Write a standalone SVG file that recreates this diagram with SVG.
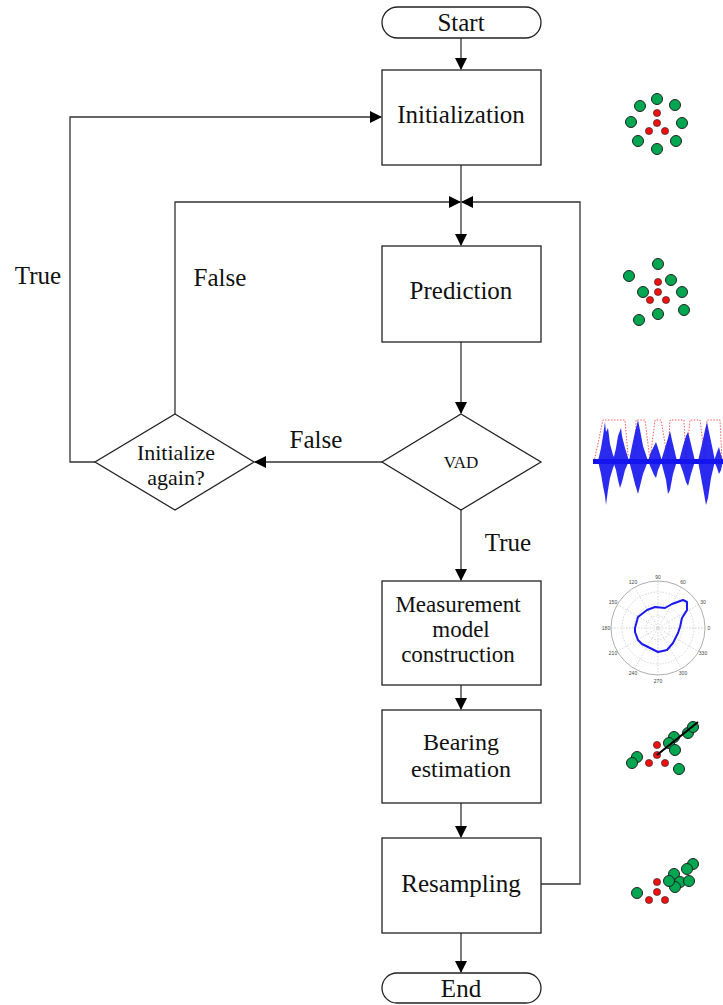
<svg xmlns="http://www.w3.org/2000/svg" width="723" height="1005" viewBox="0 0 723 1005">
<style>
.box{fill:#fff;stroke:#222;stroke-width:1.3}
.con{fill:none;stroke:#333;stroke-width:1.3}
.t{font-family:"Liberation Serif",serif;font-size:25px;fill:#111;text-anchor:middle}
.t2{font-family:"Liberation Serif",serif;font-size:22px;fill:#111;text-anchor:middle}
.g{fill:#00a650;stroke:#222;stroke-width:1}
.r{fill:#ee1111;stroke:#222;stroke-width:0.6}
.grid{fill:none;stroke:#bbb;stroke-width:0.6;stroke-dasharray:1.5 1.5}
.pl{font-family:"Liberation Sans",sans-serif;font-size:5px;fill:#444;text-anchor:middle}
</style>
<defs>
<marker id="ah" markerWidth="12" markerHeight="12" refX="11" refY="6" orient="auto" markerUnits="userSpaceOnUse">
<path d="M0,0 L12,6 L0,12 z" fill="#000"/>
</marker>
</defs>

<g id="connectors">
<path class="con" d="M461,38 V69" marker-end="url(#ah)"/>
<path class="con" d="M461,165 V245" marker-end="url(#ah)"/>
<path class="con" d="M461,342 V413" marker-end="url(#ah)"/>
<path class="con" d="M382,462 H255" marker-end="url(#ah)"/>
<path class="con" d="M175,414 V202 H460" marker-end="url(#ah)"/>
<path class="con" d="M95,462 H70 V117 H381" marker-end="url(#ah)"/>
<path class="con" d="M461,510 V580" marker-end="url(#ah)"/>
<path class="con" d="M461,685 V709" marker-end="url(#ah)"/>
<path class="con" d="M461,803 V837" marker-end="url(#ah)"/>
<path class="con" d="M541,884 H580 V202 H462" marker-end="url(#ah)"/>
<path class="con" d="M461,933 V972" marker-end="url(#ah)"/>
<text class="t" x="38" y="284">True</text>
<text class="t" x="220" y="286">False</text>
<text class="t" x="316" y="448">False</text>
<text class="t" x="508" y="551">True</text>
</g>

<g id="start"><rect class="box" x="382" y="7" width="159" height="31" rx="15.5"/><text class="t" x="461" y="31">Start</text></g>
<g id="initialization"><rect class="box" x="382" y="70" width="159" height="95"/><text class="t" x="461" y="123">Initialization</text></g>
<g id="prediction"><rect class="box" x="382" y="246" width="159" height="96"/><text class="t" x="461" y="299">Prediction</text></g>
<g id="vad"><path class="box" d="M461,414 L541,462 L461,510 L382,462 z"/><text class="t" x="461" y="468" style="font-size:17px">VAD</text></g>
<g id="init-again"><path class="box" d="M175,414 L254,462 L175,510 L95,462 z"/><text class="t2" x="176" y="460">Initialize</text><text class="t2" x="176" y="485">again?</text></g>
<g id="measurement"><rect class="box" x="382" y="581" width="159" height="104"/><text class="t2" x="458" y="612" style="font-size:23px">Measurement</text><text class="t2" x="461" y="637" style="font-size:23px">model</text><text class="t2" x="458" y="662" style="font-size:23px">construction</text></g>
<g id="bearing"><rect class="box" x="382" y="710" width="159" height="93"/><text class="t" x="461" y="750" style="font-size:24px">Bearing</text><text class="t" x="461" y="777" style="font-size:24px">estimation</text></g>
<g id="resampling"><rect class="box" x="382" y="838" width="159" height="95"/><text class="t" x="461" y="892">Resampling</text></g>
<g id="end"><rect class="box" x="382" y="973" width="159" height="30" rx="15"/><text class="t" x="461" y="997">End</text></g>

<g id="icon-init">
<circle class="g" cx="657" cy="99" r="5.5"/><circle class="g" cx="640" cy="106" r="5.5"/><circle class="g" cx="675" cy="105" r="5.5"/><circle class="g" cx="631" cy="122" r="5.5"/><circle class="g" cx="682" cy="123" r="5.5"/><circle class="g" cx="638" cy="141" r="5.5"/><circle class="g" cx="676" cy="141" r="5.5"/><circle class="g" cx="657" cy="149" r="5.5"/>
<circle class="r" cx="657" cy="113" r="3.6"/><circle class="r" cx="657" cy="123" r="3.6"/><circle class="r" cx="649" cy="131" r="3.6"/><circle class="r" cx="665" cy="131" r="3.6"/>
</g>
<g id="icon-pred">
<circle class="g" cx="658" cy="264" r="5.5"/><circle class="g" cx="629" cy="276" r="5.5"/><circle class="g" cx="671" cy="280" r="5.5"/><circle class="g" cx="643" cy="292" r="5.5"/><circle class="g" cx="682" cy="292" r="5.5"/><circle class="g" cx="684" cy="310" r="5.5"/><circle class="g" cx="658" cy="314" r="5.5"/><circle class="g" cx="639" cy="320" r="5.5"/>
<circle class="r" cx="658" cy="282" r="3.6"/><circle class="r" cx="658" cy="292" r="3.6"/><circle class="r" cx="650" cy="300" r="3.6"/><circle class="r" cx="666" cy="300" r="3.6"/>
</g>
<g id="icon-vad">
<path d="M594,462 L603,420 H625 L628,455 L635,458 L636,420 H645 L650,460 L655,420 H661 L668,460 L670,420 H684 L686,460 L690,420 H700 L705,460 L707,420 H720 L722,460" fill="none" stroke="#f33" stroke-width="1" stroke-dasharray="1.5 1.5" opacity="0.8"/>
<rect x="593" y="459" width="130" height="5" fill="#1111ee"/>
<g fill="#1515ee" opacity="0.9">
<path d="M598,461 L601,448 L603,436 L605,422 L606,432 L608,428 L610,444 L613,455 L616,461 L613,468 L610,478 L608,490 L606,505 L605,496 L603,486 L601,474 z"/>
<path d="M613,461 L616,448 L618,436 L621,428 L622,436 L625,448 L629,461 L625,470 L622,482 L620,488 L618,480 L616,470 z"/>
<path d="M629,461 L632,446 L635,432 L638,420 L640,430 L643,446 L648,461 L643,474 L640,486 L638,494 L635,484 L632,472 z"/>
<path d="M648,461 L651,452 L654,446 L656,442 L658,448 L662,461 L658,470 L656,478 L654,475 L651,468 z"/>
<path d="M661,461 L665,448 L668,438 L670,431 L672,440 L677,461 L673,474 L670,490 L668,494 L666,480 z"/>
<path d="M679,461 L683,446 L686,436 L688,432 L690,440 L695,461 L691,474 L688,486 L686,482 L683,472 z"/>
<path d="M698,461 L702,444 L705,430 L707,422 L709,432 L712,446 L715,461 L711,478 L708,498 L706,505 L703,488 z"/>
<path d="M714,461 L717,452 L719,447 L721,455 L723,461 L721,470 L719,474 L717,468 z"/>
</g>
</g>
<g id="icon-polar">
<circle cx="658" cy="628" r="47" fill="#fff" stroke="#999" stroke-width="0.8"/>
<circle class="grid" cx="658" cy="628" r="12"/><circle class="grid" cx="658" cy="628" r="24"/><circle class="grid" cx="658" cy="628" r="36"/>
<path class="grid" d="M611,628 H705 M658,581 V675 M681.5,587.3 L634.5,668.7 M698.7,604.5 L617.3,651.5 M634.5,587.3 L681.5,668.7 M617.3,604.5 L698.7,651.5"/>
<path d="M635,628 L638,617 L647,610 L655,607 L665,608 L672,604 L683,600 L687,602 L687,610 L682,618 L680,627 L678,633 L673,643 L667,650 L658,652 L650,648 L642,644 L638,640 L635,632 z" fill="none" stroke="#1a1aee" stroke-width="2" stroke-linejoin="round"/>
<text class="pl" x="658" y="579">90</text><text class="pl" x="683" y="584">60</text><text class="pl" x="703" y="604">30</text><text class="pl" x="709" y="630">0</text><text class="pl" x="703" y="655">330</text><text class="pl" x="683" y="675">300</text><text class="pl" x="658" y="683">270</text><text class="pl" x="633" y="675">240</text><text class="pl" x="613" y="655">210</text><text class="pl" x="606" y="630">180</text><text class="pl" x="613" y="604">150</text><text class="pl" x="633" y="584">120</text>
</g>
<g id="icon-bearing">
<circle class="g" cx="637" cy="757" r="5.5"/><circle class="g" cx="632" cy="763" r="5.5"/><circle class="g" cx="674" cy="737" r="5.5"/><circle class="g" cx="669" cy="743" r="5.5"/><circle class="g" cx="675" cy="750" r="5.5"/><circle class="g" cx="688" cy="733" r="5.5"/><circle class="g" cx="693" cy="727" r="5.5"/><circle class="g" cx="679" cy="769" r="5.5"/>
<circle class="r" cx="657" cy="745" r="3.6"/><circle class="r" cx="657" cy="755" r="3.6"/><circle class="r" cx="649" cy="763" r="3.6"/><circle class="r" cx="665" cy="763" r="3.6"/>
<path d="M657,755 L698,722" stroke="#000" stroke-width="2.2"/>
</g>
<g id="icon-resamp">
<circle class="g" cx="637" cy="893" r="5.5"/><circle class="g" cx="693" cy="864" r="5.5"/><circle class="g" cx="687" cy="869" r="5.5"/><circle class="g" cx="674" cy="874" r="5.5"/><circle class="g" cx="680" cy="882" r="5.5"/><circle class="g" cx="689" cy="881" r="5.5"/><circle class="g" cx="675" cy="887" r="5.5"/><circle class="g" cx="669" cy="881" r="5.5"/>
<circle class="r" cx="657" cy="882" r="3.6"/><circle class="r" cx="657" cy="892" r="3.6"/><circle class="r" cx="649" cy="900" r="3.6"/><circle class="r" cx="665" cy="900" r="3.6"/>
</g>
</svg>
